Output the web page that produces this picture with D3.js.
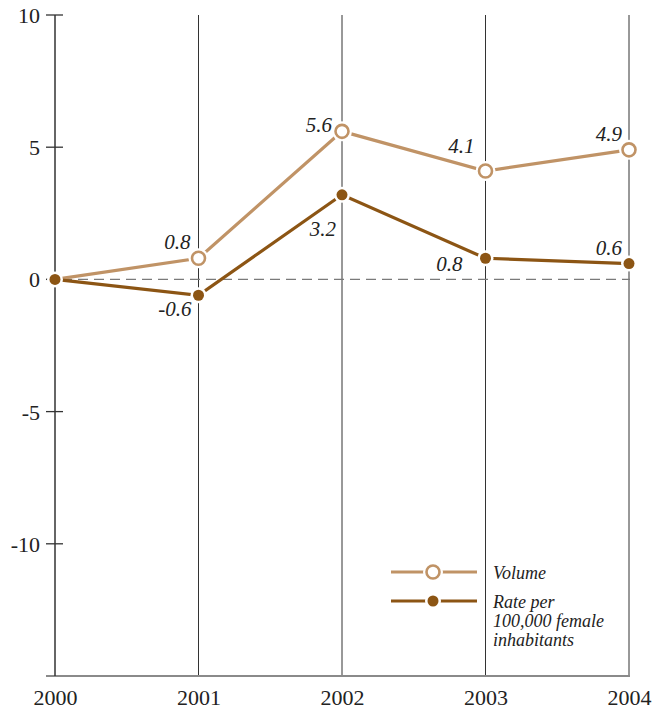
<!DOCTYPE html>
<html><head><meta charset="utf-8">
<script src="https://cdn.jsdelivr.net/npm/d3@7"></script>
<style>body{margin:0;background:#fff}svg{display:block}
svg text{font-family:"Liberation Serif","Times New Roman","DejaVu Serif",serif}</style>
</head><body>
<script>
const years = ["2000","2001","2002","2003","2004"];
const volume = [0, 0.8, 5.6, 4.1, 4.9];
const rate = [0, -0.6, 3.2, 0.8, 0.6];
const yTicks = [10, 5, 0, -5, -10];
const legendVolume = ["Volume"];
const legendRate = ["Rate per", "100,000 female", "inhabitants"];

const W = 655, H = 710;
const cVol = "#c09366", cRate = "#8c5514", cText = "#222";
const FONT = '"Liberation Serif","Times New Roman","DejaVu Serif",serif';
const svg = d3.select("body").append("svg").attr("width", W).attr("height", H);

const x = d3.scalePoint().domain(years).range([55, 629]);
const y = d3.scaleLinear().domain([-15, 10]).range([676, 15]);

// vertical gridlines
svg.append("g").selectAll("line").data(years.slice(1)).join("line")
  .attr("x1", d => x(d)).attr("x2", d => x(d))
  .attr("y1", y(10)).attr("y2", y(-15))
  .attr("stroke", "#333").attr("stroke-width", 1);

// bottom baseline
svg.append("line").attr("x1", 46).attr("x2", 630)
  .attr("y1", y(-15)).attr("y2", y(-15))
  .attr("stroke", "#8a8a8a").attr("stroke-width", 2);

// zero dashed line
svg.append("line").attr("x1", 46).attr("x2", 630)
  .attr("y1", y(0)).attr("y2", y(0))
  .attr("stroke", "#7a7a7a").attr("stroke-width", 1.2)
  .attr("stroke-dasharray", "10,6");

// y axis
const yAxis = d3.axisLeft(y).tickValues(yTicks).tickSize(0).tickPadding(15)
  .tickFormat(d => String(d));
const ga = svg.append("g").attr("transform", `translate(${x("2000")},0)`).call(yAxis)
  .attr("font-family", FONT).attr("font-size", 22);
ga.select(".domain").remove();
ga.selectAll("text").attr("fill", cText).attr("dy", "0.34em");
svg.append("line").attr("x1", x("2000")).attr("x2", x("2000"))
  .attr("y1", y(10)).attr("y2", y(-15)).attr("stroke", "#333").attr("stroke-width", 1.5);
svg.append("g").selectAll("line").data(yTicks).join("line")
  .attr("x1", 46).attr("x2", 63).attr("y1", d => y(d)).attr("y2", d => y(d))
  .attr("stroke", "#333").attr("stroke-width", 1.3);

// x labels
const xAxis = d3.axisBottom(x).tickSize(0).tickPadding(13);
const gx = svg.append("g").attr("transform", `translate(0,${y(-15)})`).call(xAxis)
  .attr("font-family", FONT).attr("font-size", 22);
gx.select(".domain").remove();
gx.selectAll("text").attr("fill", cText);

// lines
const line = d3.line().x((d, i) => x(years[i])).y(d => y(d));
svg.append("path").datum(volume).attr("d", line).attr("fill", "none")
  .attr("stroke", cVol).attr("stroke-width", 3.2);
svg.append("path").datum(rate).attr("d", line).attr("fill", "none")
  .attr("stroke", cRate).attr("stroke-width", 3.2);

// halos
svg.append("g").selectAll("circle").data(volume.slice(1)).join("circle")
  .attr("cx", (d, i) => x(years[i + 1])).attr("cy", d => y(d)).attr("r", 10).attr("fill", "#fff");
svg.append("g").selectAll("circle").data(rate).join("circle")
  .attr("cx", (d, i) => x(years[i])).attr("cy", d => y(d)).attr("r", 8).attr("fill", "#fff");

// markers
svg.append("g").selectAll("circle").data(volume.slice(1)).join("circle")
  .attr("cx", (d, i) => x(years[i + 1])).attr("cy", d => y(d)).attr("r", 6.5)
  .attr("fill", "#fff").attr("stroke", cVol).attr("stroke-width", 2.6);
svg.append("g").selectAll("circle").data(rate).join("circle")
  .attr("cx", (d, i) => x(years[i])).attr("cy", d => y(d)).attr("r", 5.5)
  .attr("fill", cRate);

// value labels
const volOff = [null, [-8, -9], [-10, 1], [-11, -18], [-7, -8.5]];
const rateOff = [null, [-7, 21], [-6, 41], [-23, 13], [-7, -9]];
function labels(vals, offs) {
  svg.append("g").selectAll("text").data(vals.slice(1)).join("text")
    .attr("x", (d, i) => x(years[i + 1]) + offs[i + 1][0])
    .attr("y", (d, i) => y(d) + offs[i + 1][1])
    .attr("text-anchor", "end")
    .attr("font-family", FONT).attr("font-style", "italic")
    .attr("font-size", 21).attr("fill", cText)
    .text(d => d.toFixed(1));
}
labels(volume, volOff);
labels(rate, rateOff);

// legend
const lg = svg.append("g");
lg.append("line").attr("x1", 391).attr("x2", 477).attr("y1", 572).attr("y2", 572)
  .attr("stroke", cVol).attr("stroke-width", 3.2);
lg.append("circle").attr("cx", 433).attr("cy", 572).attr("r", 10).attr("fill", "#fff");
lg.append("circle").attr("cx", 433).attr("cy", 572).attr("r", 6.5)
  .attr("fill", "#fff").attr("stroke", cVol).attr("stroke-width", 2.6);
lg.append("line").attr("x1", 391).attr("x2", 477).attr("y1", 601).attr("y2", 601)
  .attr("stroke", cRate).attr("stroke-width", 3.2);
lg.append("circle").attr("cx", 433).attr("cy", 601).attr("r", 8).attr("fill", "#fff");
lg.append("circle").attr("cx", 433).attr("cy", 601).attr("r", 5.5).attr("fill", cRate);
lg.append("text").attr("x", 493).attr("y", 579)
  .attr("font-family", FONT).attr("font-style", "italic").attr("font-size", 18).attr("fill", cText)
  .text(legendVolume[0]);
lg.append("g").selectAll("text").data(legendRate).join("text")
  .attr("x", 493).attr("y", (d, i) => 608 + i * 19)
  .attr("font-family", FONT).attr("font-style", "italic").attr("font-size", 18).attr("fill", cText)
  .text(d => d);
</script>
</body></html>
